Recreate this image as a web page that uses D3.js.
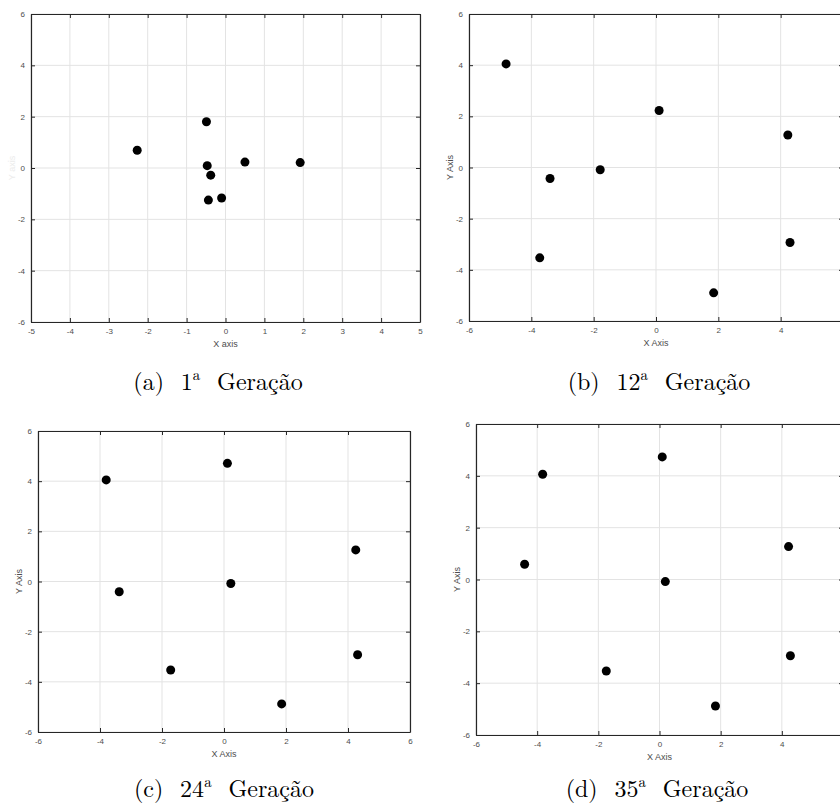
<!DOCTYPE html>
<html>
<head>
<meta charset="utf-8">
<script src="https://cdn.jsdelivr.net/npm/d3@7"></script>
<style>
  body { margin: 0; background: #fff; }
  svg { display: block; }
  .tick text { font-family: "Liberation Sans", Arial, sans-serif; font-size: 8px; fill: #4d4d4d; }
</style>
</head>
<body>
<div class="chart"></div>
<script>
// generation data
const gen1X = [-2.27, -0.49, -0.47, -0.38, -0.44, -0.10, 0.50, 1.92];
const gen1Y = [0.69, 1.80, 0.09, -0.28, -1.25, -1.17, 0.23, 0.21];

const gen12X = [-4.81, -3.40, -3.73, -1.79, 0.10, 4.23, 4.30, 1.85];
const gen12Y = [4.05, -0.43, -3.53, -0.09, 2.23, 1.27, -2.93, -4.90];

const gen24X = [-3.80, 0.11, -3.38, 0.22, 4.25, -1.72, 4.31, 1.86];
const gen24Y = [4.05, 4.71, -0.41, -0.08, 1.26, -3.53, -2.92, -4.88];

const gen35X = [-3.82, 0.09, -4.41, 0.19, 4.22, -1.74, 4.28, 1.83];
const gen35Y = [4.06, 4.73, 0.59, -0.08, 1.27, -3.53, -2.94, -4.88];

const xTicksA = [-5, -4, -3, -2, -1, 0, 1, 2, 3, 4, 5];
const xTicksB = [-6, -4, -2, 0, 2, 4, 6];
const yTicks = [-6, -4, -2, 0, 2, 4, 6];

const panels = [
  {label: "(a)", gen: "1", xs: gen1X, ys: gen1Y, xDomain: [-5, 5], xTicks: xTicksA,
   xLabel: "X axis", yLabel: "Y axis", yLabelColor: "#ececec",
   left: 31, right: 420, top: 14, bottom: 322, capX: 218, capY: 390},
  {label: "(b)", gen: "12", xs: gen12X, ys: gen12Y, xDomain: [-6, 6], xTicks: xTicksB,
   xLabel: "X Axis", yLabel: "Y Axis", yLabelColor: "#4d4d4d",
   left: 469, right: 843, top: 14, bottom: 321, capX: 659, capY: 390},
  {label: "(c)", gen: "24", xs: gen24X, ys: gen24Y, xDomain: [-6, 6], xTicks: xTicksB,
   xLabel: "X Axis", yLabel: "Y Axis", yLabelColor: "#4d4d4d",
   left: 38, right: 410, top: 431, bottom: 732, capX: 224, capY: 797},
  {label: "(d)", gen: "35", xs: gen35X, ys: gen35Y, xDomain: [-6, 6], xTicks: xTicksB,
   xLabel: "X Axis", yLabel: "Y Axis", yLabelColor: "#4d4d4d",
   left: 476, right: 843, top: 424, bottom: 735, capX: 657, capY: 797}
];

const svg = d3.select(".chart")
  .append("svg")
  .attr("width", 840)
  .attr("height", 810);

panels.forEach(p => {
  const x = d3.scaleLinear().domain(p.xDomain).range([p.left, p.right]);
  const y = d3.scaleLinear().domain([-6, 6]).range([p.bottom, p.top]);
  const g = svg.append("g");

  // grid
  g.selectAll(".vgrid").data(p.xTicks).enter().append("line")
    .attr("x1", d => x(d)).attr("x2", d => x(d))
    .attr("y1", p.top).attr("y2", p.bottom)
    .attr("stroke", "#e3e3e3").attr("stroke-width", 1);
  g.selectAll(".hgrid").data(yTicks).enter().append("line")
    .attr("y1", d => y(d)).attr("y2", d => y(d))
    .attr("x1", p.left).attr("x2", p.right)
    .attr("stroke", "#e3e3e3").attr("stroke-width", 1);

  // axes, ticks pointing inward
  const bottomAx = g.append("g").attr("transform", `translate(0,${p.bottom})`)
    .call(d3.axisBottom(x).tickValues(p.xTicks).tickSizeInner(-4).tickSizeOuter(0).tickPadding(6));
  const leftAx = g.append("g").attr("transform", `translate(${p.left},0)`)
    .call(d3.axisLeft(y).tickValues(yTicks).tickSizeInner(-4).tickSizeOuter(0).tickPadding(6));
  g.append("g").attr("transform", `translate(0,${p.top})`)
    .call(d3.axisTop(x).tickValues(p.xTicks).tickSizeInner(-4).tickSizeOuter(0).tickFormat(""));
  g.append("g").attr("transform", `translate(${p.right},0)`)
    .call(d3.axisRight(y).tickValues(yTicks).tickSizeInner(-4).tickSizeOuter(0).tickFormat(""));
  g.selectAll(".domain").attr("stroke", "#262626").attr("stroke-width", 1.2);
  g.selectAll(".tick line").attr("stroke", "#262626");
  bottomAx.selectAll("text").text(d => d < 0 ? "-" + Math.abs(d) : d);
  leftAx.selectAll("text").text(d => d < 0 ? "-" + Math.abs(d) : d);

  // axis labels
  g.append("text")
    .attr("x", x(0)).attr("y", p.bottom + 25)
    .attr("text-anchor", "middle")
    .attr("font-family", "Liberation Sans, Arial, sans-serif")
    .attr("font-size", 9).attr("fill", "#4d4d4d")
    .text(p.xLabel);
  g.append("text")
    .attr("transform", `translate(${p.left - 16},${y(0)}) rotate(-90)`)
    .attr("text-anchor", "middle")
    .attr("font-family", "Liberation Sans, Arial, sans-serif")
    .attr("font-size", 9).attr("fill", p.yLabelColor)
    .text(p.yLabel);

  // points
  g.selectAll("circle").data(p.xs).enter().append("circle")
    .attr("cx", d => x(d))
    .attr("cy", (d, i) => y(p.ys[i]))
    .attr("r", 4.5)
    .attr("fill", "#000");

  // caption
  const cap = svg.append("text")
    .attr("x", p.capX).attr("y", p.capY)
    .attr("text-anchor", "middle")
    .attr("font-family", "Latin Modern Roman, CMU Serif, DejaVu Serif, serif")
    .attr("font-size", 24).attr("fill", "#000");
  cap.append("tspan").text(p.label + "\u2002\u2009" + p.gen);
  cap.append("tspan").attr("dy", -10).attr("font-size", 15).text("a");
  cap.append("tspan").attr("dy", 10).text("\u2002\u2009Geração");
});
</script>
</body>
</html>
